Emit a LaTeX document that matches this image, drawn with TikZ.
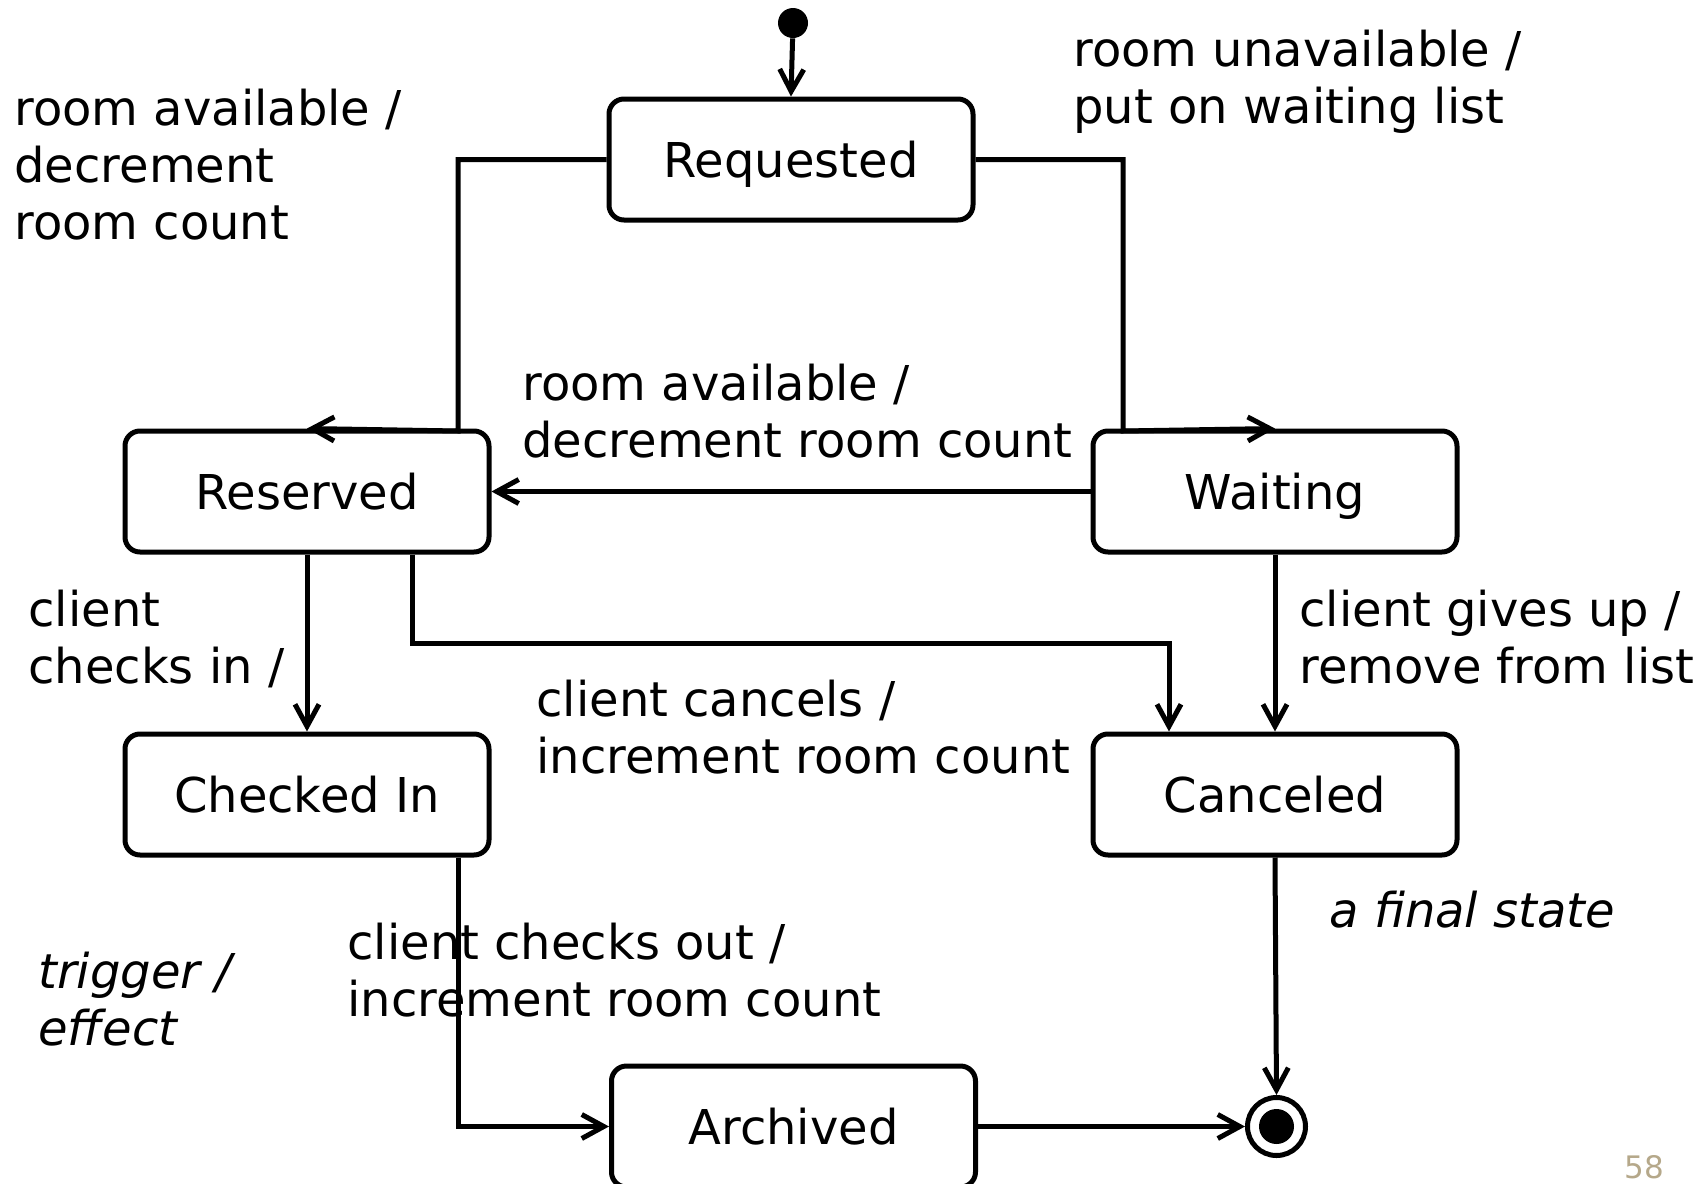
\documentclass[tikz,border=0pt]{standalone}
\usepackage{fontspec}
\setmainfont{DejaVu Sans}
\usetikzlibrary{arrows.meta}
\definecolor{pagenum}{RGB}{181,168,138}
% multi-line label whose baseline is that of its first line
\newcommand{\lbl}[1]{\begin{tabular}[t]{@{}l@{}}#1\end{tabular}}

\begin{document}
\begin{tikzpicture}[x=0.5pt,y=-0.5pt,
  state/.style={draw, line width=2.5pt, rounded corners=7.5pt,
    minimum width=182pt, minimum height=60.5pt, inner sep=0pt,
    text height=18pt, text depth=0pt,
    font=\fontsize{24}{28.5}\selectfont},
  lab/.style={anchor=base west, inner sep=0pt,
    font=\fontsize{24}{28.5}\selectfont},
  arr/.style={line width=2.5pt, -{Straight Barb[length=11pt,width=12pt]}},
  dot/.style={circle, fill, inner sep=0pt},
]
\clip (0,0) rectangle (1705,1184);
\fill[white] (0,0) rectangle (1705,1184);

% states
\node[state] (req)  at (791,159.5)  {Requested};
\node[state] (res)  at (307,491.5)  {Reserved};
\node[state] (wait) at (1275,491.5) {Waiting};
\node[state] (chk)  at (307,794.5)  {Checked In};
\node[state] (can)  at (1275,794.5) {Canceled};
\node[state] (arch) at (793.5,1126.5) {Archived};

% pseudo states
\node[dot, minimum size=15pt] (init) at (793,23) {};
\node[circle, draw, line width=2.5pt, inner sep=0pt, minimum size=29pt] (fin) at (1276.5,1126.5) {};
\node[dot, minimum size=17.5pt] (findot) at (fin.center) {};

% bend points
\coordinate (rl) at (458,431);
\coordinate (wr) at (1123,431);
\coordinate (cx) at (1169,643);

% transitions
\draw[arr] (init) -- (req.north);
\draw[arr] (req.west) -| (rl) -- (res.north);
\draw[arr] (req.east) -| (wr) -- (wait.north);
\draw[arr] (wait.west) -- (res.east);
\draw[arr] (res.south) -- (chk.north);
\draw[arr] ([xshift=52.5pt]res.south) |- (cx) -- (cx |- can.north);
\draw[arr] (wait.south) -- (can.north);
\draw[arr] ([xshift=75.5pt]chk.south) |- (arch.west);
\draw[arr] (arch.east) -- (fin.west);
\draw[arr] (can.south) -- (fin.north);

% transition labels
\node[lab] (l1) at (14,125)   {\lbl{room available /\\decrement\\room count}};
\node[lab] (l2) at (1073,66)  {\lbl{room unavailable /\\put on waiting list}};
\node[lab] (l3) at (522,400)  {\lbl{room available /\\decrement room count}};
\node[lab] (l4) at (28,626)   {\lbl{client\\checks in /}};
\node[lab] (l5) at (536,716)  {\lbl{client cancels /\\increment room count}};
\node[lab] (l6) at (1299,626) {\lbl{client gives up /\\remove from list}};
\node[lab] (l7) at (347,959)  {\lbl{client checks out /\\increment room count}};
\node[lab, font=\fontsize{24}{28.5}\selectfont\itshape] (l8) at (1329,927) {a final state};
\node[lab, font=\fontsize{24}{28.5}\selectfont\itshape] (l9) at (38,988) {\lbl{trigger /\\effect}};

% page number
\node[anchor=base west, inner sep=0pt, text=pagenum, font=\fontsize{15.5}{18}\selectfont] (pg) at (1624,1178) {58};
\end{tikzpicture}
\end{document}
